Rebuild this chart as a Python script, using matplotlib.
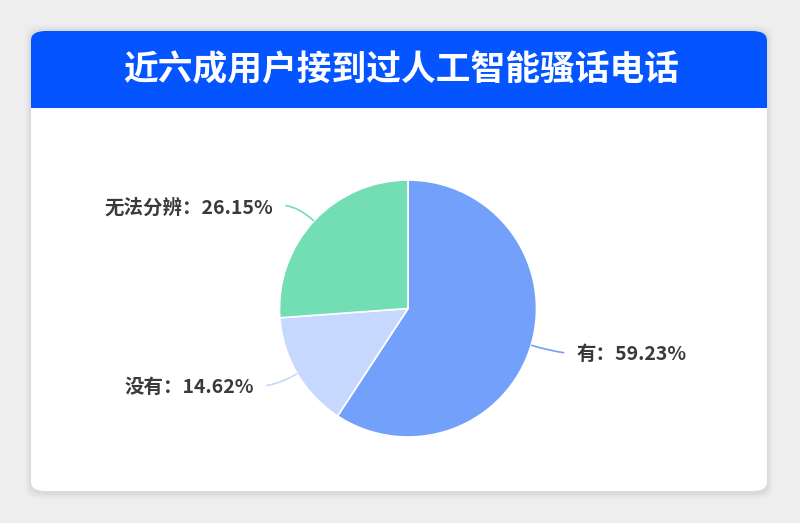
import matplotlib
matplotlib.use("Agg")
import matplotlib.pyplot as plt
from matplotlib.patches import FancyBboxPatch, Rectangle, PathPatch
from matplotlib.path import Path
import numpy as np

plt.rcParams['font.family'] = ['Noto Sans CJK SC', 'DejaVu Sans']

title = "近六成用户接到过人工智能骚话电话"
categories = ["有", "没有", "无法分辨"]
values = [59.23, 14.62, 26.15]
colors = ["#73A0FA", "#C6D8FE", "#73DEB3"]

W, H = 800, 523
fig = plt.figure(figsize=(8, 5.23), dpi=100)
fig.patch.set_facecolor("#EEEEEE")

def fx(px):
    return px / W

def fy(py):
    return 1 - py / H

# shadow
for i, a in enumerate([0.035, 0.025, 0.015]):
    d = 2 + i * 2
    sh = FancyBboxPatch((fx(31 - d), fy(493 + d)), fx(736 + 2 * d), (462 + 2 * d) / H,
                        boxstyle="round,pad=0,rounding_size=0.02", transform=fig.transFigure,
                        facecolor="black", edgecolor="none", alpha=a, zorder=0)
    fig.patches.append(sh)

# card
card = FancyBboxPatch((fx(31), fy(491)), fx(736), 460 / H,
                      boxstyle="round,pad=0,rounding_size=0.018", transform=fig.transFigure,
                      facecolor="white", edgecolor="none", zorder=1)
fig.patches.append(card)
# header
hdr = FancyBboxPatch((fx(31), fy(108)), fx(736), 77 / H,
                     boxstyle="round,pad=0,rounding_size=0.018", transform=fig.transFigure,
                     facecolor="#0455FF", edgecolor="none", zorder=2)
fig.patches.append(hdr)
fig.patches.append(Rectangle((fx(31), fy(108)), fx(736), 30 / H, transform=fig.transFigure,
                             facecolor="#0455FF", edgecolor="none", zorder=2))
fig.text(fx(401), fy(70), title, ha="center", va="center", color="white",
         fontsize=25, fontweight="bold", zorder=3)

# pie axes: center (408, 308.5), radius 128.5 px
cx, cy, R = 408, 308.5, 128.5
half = 300
ax = fig.add_axes([fx(cx - half), fy(cy + half), 2 * half / W, 2 * half / H])
ax.set_zorder(5)
ax.patch.set_alpha(0)

wedges, _ = ax.pie(values, colors=colors, startangle=90, counterclock=False, radius=R,
                   center=(0, 0), wedgeprops=dict(edgecolor="white", linewidth=1.2))
ax.set_xlim(-half, half)
ax.set_ylim(-half, half)
ax.set_aspect("equal")
ax.axis("off")

cum = 90.0
for cat, v, col in zip(categories, values, colors):
    ang = cum - v * 3.6 / 2
    cum -= v * 3.6
    t = np.deg2rad(ang)
    c, s = np.cos(t), np.sin(t)
    p0 = (R * c, R * s)
    p1 = ((R + 20) * c, (R + 20) * s)
    sgn = 1 if c >= 0 else -1
    p2 = (p1[0] + sgn * 14, p1[1] + (-6 if s < 0 else 6) * 0.3)
    path = Path([p0, p1, p2], [Path.MOVETO, Path.CURVE3, Path.CURVE3])
    ax.add_patch(PathPatch(path, facecolor="none", edgecolor=col, lw=1.2))
    ax.text(p2[0] + sgn * 12, p2[1] - 2, f"{cat}：{v:.2f}%", ha="left" if sgn > 0 else "right",
            va="center", fontsize=14, fontweight="bold", color="#3A3A3A")

fig.savefig("out.png", dpi=100, facecolor=fig.get_facecolor())
